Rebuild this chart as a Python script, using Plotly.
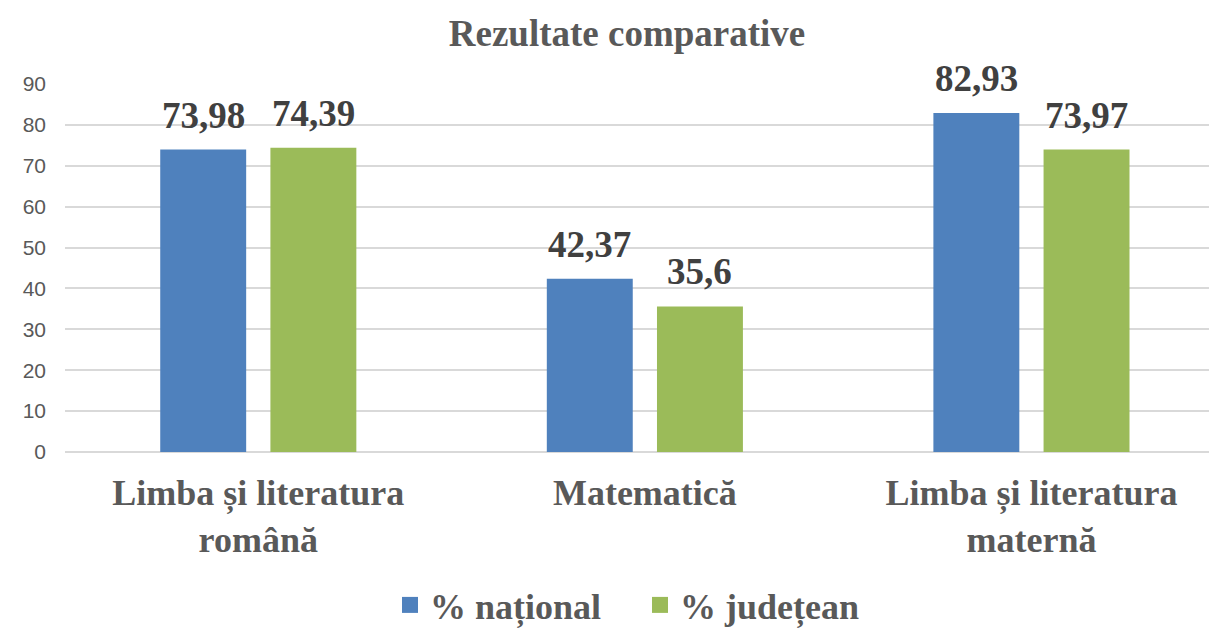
import plotly.graph_objects as go

categories = ["Limba și literatura<br>română", "Matematică", "Limba și literatura<br>maternă"]
series_names = ["% național", "% județean"]
national = [73.98, 42.37, 82.93]
judetean = [74.39, 35.6, 73.97]
y_ticks = [0, 10, 20, 30, 40, 50, 60, 70, 80, 90]

colors = ["#4F81BD", "#9BBB59"]
serif = "Liberation Serif"
sans = "Liberation Sans"

W, H = 1209, 622  # page body has an 8px margin


def fmt(v):
    return f"{v:g}".replace(".", ",")


fig = go.Figure()
for name, vals, col in zip(series_names, [national, judetean], colors):
    fig.add_trace(go.Bar(
        x=categories, y=vals, name=name, showlegend=False,
        marker=dict(color=col, line=dict(width=0)),
    ))
    # legend swatch
    fig.add_trace(go.Scatter(
        x=[None], y=[None], name=f"<b>{name}</b>", mode="markers",
        marker=dict(symbol="square", size=18, color=col),
    ))

# value labels above bars
for vals, shift in zip([national, judetean], [-55, 55]):
    for c, v in zip(categories, vals):
        fig.add_annotation(
            x=c, y=v, text=f"<b>{fmt(v)}</b>", showarrow=False,
            xanchor="center", yanchor="bottom", xshift=shift, yshift=12,
            font=dict(family=serif, size=37, color="#404040"),
        )

fig.update_layout(
    width=W, height=H,
    font=dict(family=serif, color="#595959"),
    paper_bgcolor="white", plot_bgcolor="white",
    margin=dict(l=57, r=0, t=76, b=178),
    barmode="group", bargap=0.43, bargroupgap=0.22,
    title=dict(text="<b>Rezultate comparative</b>", x=619/W, xanchor="center",
               y=1-25/H, yanchor="middle", yref="container",
               font=dict(family=serif, size=37, color="#595959")),
    showlegend=True,
    legend=dict(orientation="h", x=632/W, xanchor="center", xref="container",
                y=1-597/H, yanchor="middle", yref="container",
                font=dict(family=serif, size=36, color="#595959"),
                itemwidth=30, entrywidth=205, entrywidthmode="pixels",
                tracegroupgap=0),
)
fig.update_xaxes(range=[-0.5, 2.48], showgrid=False, showline=False, zeroline=False,
                 tickfont=dict(family=serif, size=36, color="#595959", weight="bold"),
                 ticklabelstandoff=16)
fig.update_yaxes(range=[0, 90], tickvals=y_ticks, showline=False, zeroline=True,
                 zerolinecolor="#D9D9D9", zerolinewidth=1.5,
                 gridcolor="#D9D9D9", gridwidth=1.5,
                 tickfont=dict(family=sans, size=21, color="#595959"),
                 ticklabelstandoff=18)

fig.write_html("out.html")
